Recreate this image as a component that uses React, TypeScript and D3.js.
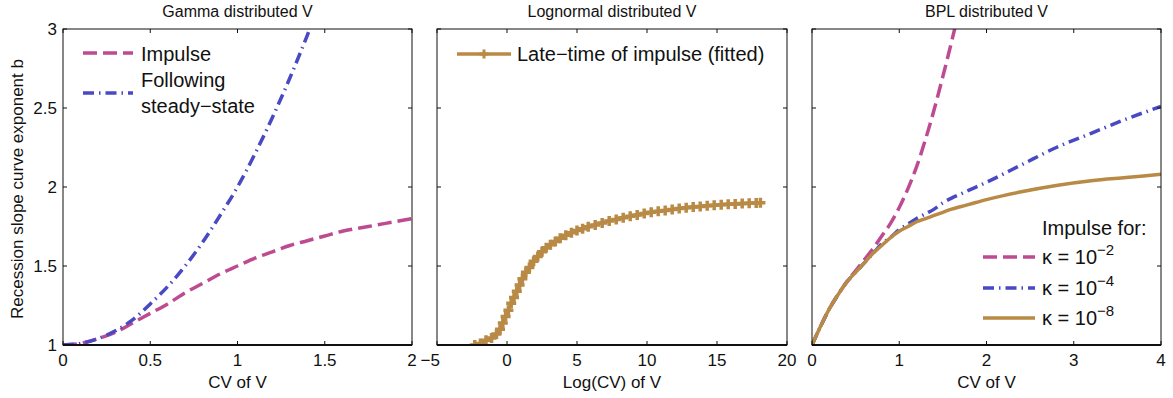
import { useRef, useEffect } from 'react';
import * as d3 from 'd3';

const W = 1173;
const H = 398;
const FONT = '"Liberation Sans", Arial, Helvetica, sans-serif';

const COLORS = {
  impulse: '#BE4A91',
  steady: '#4949C4',
  late: '#B88A45',
};

// Gamma distributed V
const gammaCV = [0, 0.1, 0.2, 0.3, 0.4, 0.5, 0.6, 0.7, 0.8, 0.9, 1.0, 1.1, 1.2, 1.3, 1.4, 1.5, 1.6, 1.7, 1.8, 1.9, 2.0];
const gammaImpulse = [1, 1.01, 1.04, 1.08, 1.14, 1.2, 1.26, 1.33, 1.39, 1.45, 1.5, 1.55, 1.59, 1.63, 1.66, 1.69, 1.72, 1.74, 1.76, 1.78, 1.8];
const gammaSteady = [1, 1.01, 1.04, 1.09, 1.16, 1.26, 1.37, 1.5, 1.65, 1.82, 2.0, 2.21, 2.44, 2.69, 2.96, 3.25];

// Lognormal distributed V
const logCV = [
  -2.3, -1.9, -1.5, -1.1, -0.75, -0.5, -0.3, -0.1, 0.1, 0.3, 0.5, 0.7, 0.9, 1.1, 1.35, 1.6, 1.9, 2.2, 2.5, 2.8,
  3.1, 3.45, 3.8, 4.2, 4.6, 5.0, 5.4, 5.8, 6.3, 6.8, 7.3, 7.8, 8.3, 8.8, 9.3, 9.8, 10.3, 10.8, 11.3, 11.8,
  12.3, 12.8, 13.3, 13.8, 14.3, 14.8, 15.3, 15.8, 16.3, 16.8, 17.3, 17.8, 18.1,
];
const lateImpulse = [
  1.0, 1.01, 1.03, 1.045, 1.07, 1.1, 1.14, 1.18, 1.22, 1.265, 1.3, 1.34, 1.38, 1.42, 1.46, 1.49, 1.53, 1.56, 1.59, 1.615,
  1.635, 1.655, 1.675, 1.695, 1.71, 1.725, 1.735, 1.748, 1.76, 1.772, 1.785, 1.795, 1.805, 1.815, 1.823, 1.832, 1.84, 1.846, 1.852, 1.858,
  1.864, 1.869, 1.873, 1.877, 1.881, 1.885, 1.888, 1.891, 1.893, 1.895, 1.897, 1.899, 1.9,
];

// BPL distributed V
const bplCV = [0, 0.1, 0.2, 0.3, 0.4, 0.5, 0.6, 0.7, 0.8, 0.9, 1.0, 1.1, 1.2, 1.3, 1.4, 1.5, 1.6, 1.7, 1.8, 2.0, 2.4, 2.8, 3.2, 3.6, 4.0];
const kappa2 = [1, 1.12, 1.23, 1.32, 1.4, 1.47, 1.54, 1.61, 1.69, 1.77, 1.87, 1.99, 2.13, 2.3, 2.49, 2.7, 2.92, 3.15];
const kappa4 = [1, 1.12, 1.23, 1.32, 1.4, 1.46, 1.52, 1.58, 1.64, 1.68, 1.73, 1.765, 1.8, 1.83, 1.86, 1.9, 1.93, 1.955, 1.98, 2.03, 2.14, 2.25, 2.34, 2.43, 2.51];
const kappa8 = [1, 1.12, 1.23, 1.32, 1.4, 1.46, 1.52, 1.58, 1.63, 1.68, 1.72, 1.75, 1.78, 1.8, 1.82, 1.84, 1.86, 1.875, 1.89, 1.92, 1.97, 2.01, 2.04, 2.06, 2.08];

const yTicks = [1, 1.5, 2, 2.5, 3];

interface Series {
  x: number[];
  y: number[];
  color: string;
  dash?: string;
  width: number;
  markers?: boolean;
}

interface Panel {
  left: number;
  right: number;
  domain: [number, number];
  ticks: number[];
  title: string;
  xlabel: string;
  series: Series[];
}

const DASHED = '14,6';
const DASHDOT = '11,5,1.5,5';

const panels: Panel[] = [
  {
    left: 63, right: 412, domain: [0, 2], ticks: [0, 0.5, 1, 1.5, 2],
    title: 'Gamma distributed V', xlabel: 'CV of V',
    series: [
      { x: gammaCV, y: gammaImpulse, color: COLORS.impulse, dash: DASHED, width: 3.5 },
      { x: gammaCV, y: gammaSteady, color: COLORS.steady, dash: DASHDOT, width: 3.5 },
    ],
  },
  {
    left: 437, right: 787, domain: [-5, 20], ticks: [-5, 0, 5, 10, 15, 20],
    title: 'Lognormal distributed V', xlabel: 'Log(CV) of V',
    series: [{ x: logCV, y: lateImpulse, color: COLORS.late, width: 3.5, markers: true }],
  },
  {
    left: 812, right: 1161, domain: [0, 4], ticks: [0, 1, 2, 3, 4],
    title: 'BPL distributed V', xlabel: 'CV of V',
    series: [
      { x: bplCV, y: kappa2, color: COLORS.impulse, dash: DASHED, width: 3.5 },
      { x: bplCV, y: kappa4, color: COLORS.steady, dash: DASHDOT, width: 3.5 },
      { x: bplCV, y: kappa8, color: COLORS.late, width: 3.5 },
    ],
  },
];

const TOP = 29;
const BOTTOM = 345;

export default function App() {
  const svgRef = useRef<SVGSVGElement>(null);

  useEffect(() => {
    if (!svgRef.current) return;
    const svg = d3.select(svgRef.current);
    svg.selectAll('*').remove();

    const yScale = d3.scaleLinear().domain([1, 3]).range([BOTTOM, TOP]);
    const fmt = (v: number) => String(v).replace('-', '\u2212');

    panels.forEach((p, pi) => {
      const xScale = d3.scaleLinear().domain(p.domain).range([p.left, p.right]);
      const g = svg.append('g');

      // Clip
      const clipId = `clip-${pi}`;
      svg.append('clipPath').attr('id', clipId)
        .append('rect')
        .attr('x', p.left).attr('y', TOP)
        .attr('width', p.right - p.left).attr('height', BOTTOM - TOP);

      // Title
      g.append('text')
        .attr('x', (p.left + p.right) / 2).attr('y', 17)
        .attr('text-anchor', 'middle')
        .attr('font-size', 16).attr('fill', '#111')
        .text(p.title);

      // Series
      const plot = g.append('g').attr('clip-path', `url(#${clipId})`);
      p.series.forEach((s) => {
        const pts = s.y.map((v, i) => [s.x[i], v] as [number, number]);
        const line = d3.line<[number, number]>()
          .x((d) => xScale(d[0]))
          .y((d) => yScale(d[1]))
          .curve(d3.curveMonotoneX);
        plot.append('path')
          .attr('d', line(pts))
          .attr('fill', 'none')
          .attr('stroke', s.color)
          .attr('stroke-width', s.width)
          .attr('stroke-dasharray', s.dash || null);
        if (s.markers) {
          plot.selectAll(null)
            .data(pts)
            .enter()
            .append('path')
            .attr('d', (d) => {
              const cx = xScale(d[0]);
              const cy = yScale(d[1]);
              return `M${cx - 5},${cy}H${cx + 5}M${cx},${cy - 5}V${cy + 5}`;
            })
            .attr('stroke', s.color)
            .attr('stroke-width', 3.5)
            .attr('fill', 'none');
        }
      });

      // Frame
      g.append('rect')
        .attr('x', p.left).attr('y', TOP)
        .attr('width', p.right - p.left).attr('height', BOTTOM - TOP)
        .attr('fill', 'none').attr('stroke', '#111').attr('stroke-width', 1);
      g.append('line')
        .attr('x1', p.left).attr('x2', p.right)
        .attr('y1', BOTTOM).attr('y2', BOTTOM)
        .attr('stroke', '#111').attr('stroke-width', 2);

      // X ticks
      p.ticks.forEach((t) => {
        const x = xScale(t);
        g.append('line').attr('x1', x).attr('x2', x).attr('y1', BOTTOM).attr('y2', BOTTOM - 4)
          .attr('stroke', '#111');
        g.append('line').attr('x1', x).attr('x2', x).attr('y1', TOP).attr('y2', TOP + 4)
          .attr('stroke', '#111');
        g.append('text')
          .attr('x', x).attr('y', 366)
          .attr('dx', t < 0 ? '-0.4em' : null)
          .attr('text-anchor', 'middle')
          .attr('font-size', 17).attr('fill', '#111')
          .text(fmt(t));
      });

      // Y ticks
      yTicks.forEach((t) => {
        const y = yScale(t);
        g.append('line').attr('x1', p.left).attr('x2', p.left + 4).attr('y1', y).attr('y2', y)
          .attr('stroke', '#111');
        g.append('line').attr('x1', p.right).attr('x2', p.right - 4).attr('y1', y).attr('y2', y)
          .attr('stroke', '#111');
        if (pi === 0) {
          g.append('text')
            .attr('x', 57).attr('y', y)
            .attr('dy', '0.35em')
            .attr('text-anchor', 'end')
            .attr('font-size', 17).attr('fill', '#111')
            .text(fmt(t));
        }
      });

      // X label
      g.append('text')
        .attr('x', (p.left + p.right) / 2).attr('y', 388)
        .attr('text-anchor', 'middle')
        .attr('font-size', 17).attr('fill', '#111')
        .text(p.xlabel);
    });

    // Y label
    svg.append('text')
      .attr('transform', `translate(23,189) rotate(-90)`)
      .attr('text-anchor', 'middle')
      .attr('font-size', 17).attr('fill', '#111')
      .text('Recession slope curve exponent b');

    // Legends
    const legendLine = (x1: number, x2: number, y: number, color: string, dash?: string) => {
      svg.append('line')
        .attr('x1', x1).attr('x2', x2).attr('y1', y).attr('y2', y)
        .attr('stroke', color).attr('stroke-width', 3.5)
        .attr('stroke-dasharray', dash || null);
    };
    const legendText = (x: number, y: number, text: string) =>
      svg.append('text')
        .attr('x', x).attr('y', y)
        .attr('font-size', 20).attr('fill', '#111')
        .text(text);

    // Panel 1
    legendLine(83, 133, 53, COLORS.impulse, DASHED);
    legendText(141, 61, 'Impulse');
    legendLine(83, 133, 93, COLORS.steady, DASHDOT);
    legendText(141, 87, 'Following');
    legendText(141, 113, 'steady\u2212state');

    // Panel 2
    legendLine(457, 511, 54, COLORS.late);
    svg.append('path')
      .attr('d', 'M479.5,54H488.5M484,49.5V58.5')
      .attr('stroke', COLORS.late).attr('stroke-width', 3);
    legendText(517, 61, 'Late\u2212time of impulse (fitted)');

    // Panel 3
    legendText(1042, 235, 'Impulse for:');
    const kappaRows = [
      { y: 257, exp: '\u22122', color: COLORS.impulse, dash: DASHED },
      { y: 288, exp: '\u22124', color: COLORS.steady, dash: DASHDOT },
      { y: 318, exp: '\u22128', color: COLORS.late, dash: undefined },
    ];
    kappaRows.forEach((r) => {
      legendLine(983, 1035, r.y, r.color, r.dash);
      const t = legendText(1042, r.y + 7, '\u03ba = 10');
      t.append('tspan')
        .attr('dy', -9)
        .attr('font-size', 15)
        .text(r.exp);
    });
  }, []);

  return (
    <svg
      ref={svgRef}
      width={W}
      height={H}
      style={{ position: 'absolute', left: 0, top: 0, background: '#fff', fontFamily: FONT }}
    />
  );
}
